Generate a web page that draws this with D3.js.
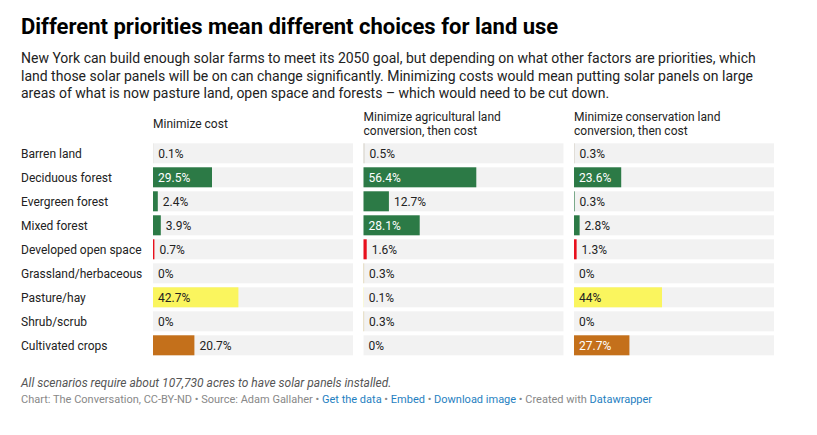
<!DOCTYPE html>
<html>
<head>
<meta charset="utf-8">
<script src="https://cdn.jsdelivr.net/npm/d3@7"></script>
<style>
  html, body { margin: 0; padding: 0; background: #fff; }
  svg { display: block; font-family: Roboto, "Noto Sans", sans-serif; }
</style>
</head>
<body>
<svg id="chart" width="817" height="435"></svg>
<script>
// ---- data ----
const title = "Different priorities mean different choices for land use";
const subtitleLines = [
  "New York can build enough solar farms to meet its 2050 goal, but depending on what other factors are priorities, which",
  "land those solar panels will be on can change significantly. Minimizing costs would mean putting solar panels on large",
  "areas of what is now pasture land, open space and forests \u2013 which would need to be cut down."
];
const categories = [
  "Barren land", "Deciduous forest", "Evergreen forest", "Mixed forest",
  "Developed open space", "Grassland/herbaceous", "Pasture/hay", "Shrub/scrub", "Cultivated crops"
];
const scenarios = [
  "Minimize cost",
  "Minimize agricultural land conversion, then cost",
  "Minimize conservation land conversion, then cost"
];
const minimizeCost = [0.1, 29.5, 2.4, 3.9, 0.7, 0, 42.7, 0, 20.7];
const minimizeAgricultural = [0.5, 56.4, 12.7, 28.1, 1.6, 0.3, 0.1, 0.3, 0];
const minimizeConservation = [0.3, 23.6, 0.3, 2.8, 1.3, 0, 44, 0, 27.7];
const seriesValues = [minimizeCost, minimizeAgricultural, minimizeConservation];
const note = "All scenarios require about 107,730 acres to have solar panels installed.";
const credits = [
  ["Chart: The Conversation, CC-BY-ND \u2022 Source: Adam Gallaher \u2022 ", false],
  ["Get the data", true], [" \u2022 ", false], ["Embed", true], ["  \u2022 ", false],
  ["Download image", true], [" \u2022 Created with ", false], ["Datawrapper", true]
];

// ---- styles ----
const colorByCategory = {
  "Barren land": "#d5d0c6",
  "Deciduous forest": "#2c7a46",
  "Evergreen forest": "#2c7a46",
  "Mixed forest": "#2c7a46",
  "Developed open space": "#e8101d",
  "Grassland/herbaceous": "#d9cb9f",
  "Pasture/hay": "#faf55e",
  "Shrub/scrub": "#d9cb9f",
  "Cultivated crops": "#c4701b"
};
const darkInside = { "Pasture/hay": true };

const svg = d3.select("#chart");

// title
svg.append("text").attr("x", 21).attr("y", 34)
  .attr("font-size", 22).attr("font-weight", 700).attr("fill", "#000")
  .text(title);

// subtitle
svg.append("g").selectAll("text").data(subtitleLines).join("text")
  .attr("x", 21).attr("y", (d, i) => 63.3 + i * 17.5)
  .attr("font-size", 14).attr("fill", "#222")
  .text(d => d);

// scales
const y = d3.scaleBand().domain(categories)
  .range([143.3, 143.3 + 24 * 9 - 4]).paddingInner(1 / 6).paddingOuter(0);
const colX = d3.scaleBand().domain(scenarios).range([153, 774]).paddingInner(0.05).paddingOuter(0);
const x = d3.scaleLinear().domain([0, 100]).range([0, colX.bandwidth()]);

// row labels
svg.append("g").selectAll("text").data(categories).join("text")
  .attr("x", 21).attr("y", d => y(d) + y.bandwidth() / 2).attr("dy", "0.35em")
  .attr("font-size", 12).attr("fill", "#222")
  .text(d => d);

// headers with wrapping
scenarios.forEach(s => {
  const t = svg.append("text").attr("font-size", 12).attr("fill", "#222");
  const words = s.split(" ");
  let lines = [], cur = [];
  const probe = svg.append("text").attr("font-size", 12);
  words.forEach(w => {
    const test = cur.concat([w]).join(" ");
    probe.text(test);
    if (probe.node().getComputedTextLength() > 175 && cur.length) {
      lines.push(cur.join(" ")); cur = [w];
    } else cur.push(w);
  });
  lines.push(cur.join(" "));
  probe.remove();
  const baseY = lines.length === 1 ? 128.3 : 120.7;
  lines.forEach((l, i) => {
    t.append("tspan").attr("x", colX(s)).attr("y", baseY + i * 14.3).text(l);
  });
});

// bars
scenarios.forEach((s, si) => {
  const g = svg.append("g").attr("transform", `translate(${colX(s)},0)`);
  const vals = seriesValues[si];
  const rows = categories.map((c, i) => ({ c, v: vals[i] }));
  g.selectAll("rect.bg").data(rows).join("rect").attr("class", "bg")
    .attr("x", 0).attr("y", d => y(d.c)).attr("width", colX.bandwidth())
    .attr("height", y.bandwidth()).attr("fill", "#f2f2f2");
  g.selectAll("rect.bar").data(rows).join("rect").attr("class", "bar")
    .attr("x", 0).attr("y", d => y(d.c)).attr("width", d => x(d.v))
    .attr("height", y.bandwidth()).attr("fill", d => colorByCategory[d.c]);
  g.selectAll("text.val").data(rows).join("text").attr("class", "val")
    .attr("font-size", 12).attr("y", d => y(d.c) + y.bandwidth() / 2).attr("dy", "0.35em")
    .text(d => d.v + "%")
    .each(function (d) {
      const w = this.getComputedTextLength();
      const bw = x(d.v);
      const sel = d3.select(this);
      if (bw > w + 10) {
        sel.attr("x", 5).attr("fill", darkInside[d.c] ? "#222" : "#fff");
      } else {
        sel.attr("x", bw + 5).attr("fill", "#222");
      }
    });
});

// note
svg.append("text").attr("x", 21).attr("y", 386.7)
  .attr("font-size", 12).attr("font-style", "italic").attr("fill", "#555")
  .text(note);

// credits
const ct = svg.append("text").attr("x", 21).attr("y", 403.3).attr("font-size", 11);
credits.forEach(([t, link]) => {
  ct.append("tspan").attr("fill", link ? "#1f7fc1" : "#888").text(t);
});
</script>
</body>
</html>
